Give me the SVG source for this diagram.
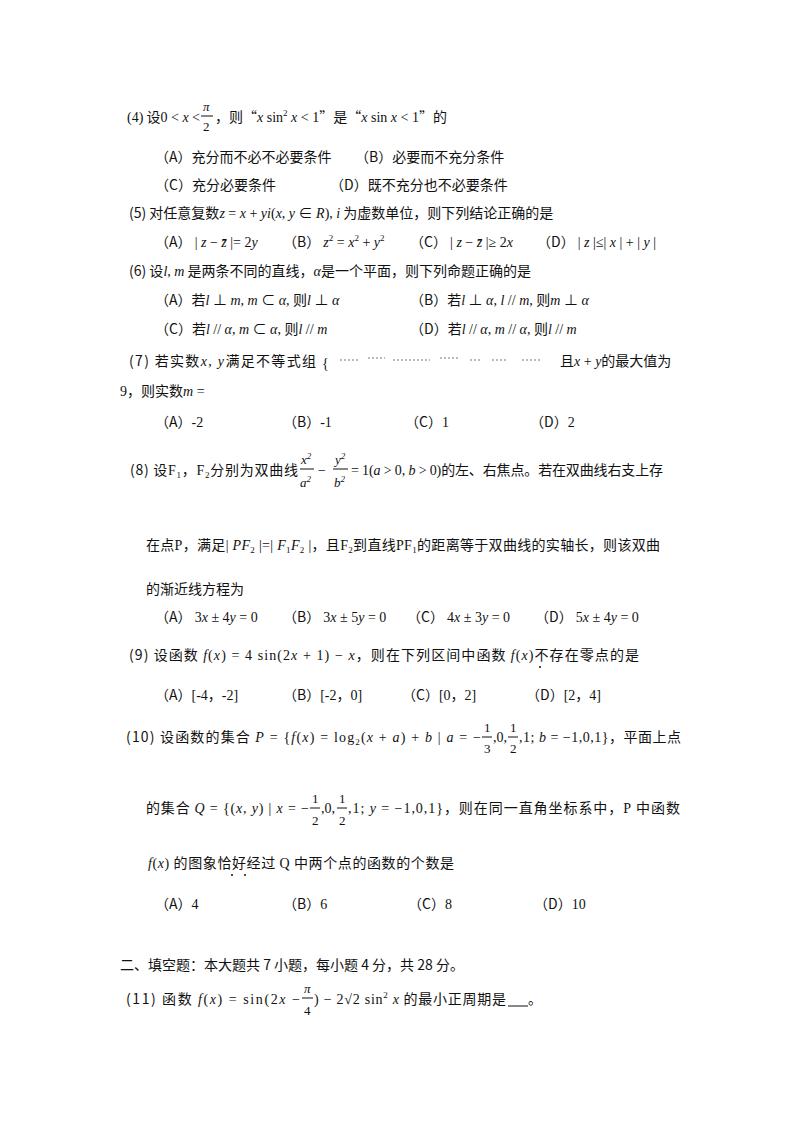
<svg xmlns="http://www.w3.org/2000/svg" width="800" height="1132" viewBox="0 0 800 1132">
<style>
text{font-family:"Noto Sans CJK SC","Liberation Serif",serif;font-size:14px;fill:#111}
.m{font-family:"Liberation Serif","Noto Sans CJK SC",serif;font-style:italic}
.r{font-family:"Liberation Serif","Noto Sans CJK SC",serif}
.s{font-size:9px}
.f{font-family:"Liberation Serif",serif;font-size:13px}
.e{text-anchor:end}
</style>
<rect width="800" height="1132" fill="#fff"/>
<g id="q4">
<text class="e" x="200" y="122"><tspan class="r">(4)</tspan> 设<tspan class="r">0 &lt; </tspan><tspan class="m">x</tspan><tspan class="r"> &lt; </tspan></text>
<text class="m f" x="203" y="111">π</text><line x1="201" y1="116" x2="213" y2="116" stroke="#111"/><text class="f" x="203" y="131">2</text>
<text x="215" y="122" textLength="232" lengthAdjust="spacing">，则“<tspan class="m">x</tspan><tspan class="r"> sin</tspan><tspan class="r s" dy="-6">2</tspan><tspan class="m" dy="6"> x</tspan><tspan class="r"> &lt; 1</tspan>”是“<tspan class="m">x</tspan><tspan class="r"> sin </tspan><tspan class="m">x</tspan><tspan class="r"> &lt; 1</tspan>”的</text>
<text x="155" y="162">（A）充分而不必不必要条件</text>
<text x="355" y="162">（B）必要而不充分条件</text>
<text x="155" y="190">（C）充分必要条件</text>
<text x="330" y="190">（D）既不充分也不必要条件</text>
</g>
<g id="q5">
<text x="129" y="218">(5) 对任意复数<tspan class="m">z</tspan><tspan class="r"> = </tspan><tspan class="m">x</tspan><tspan class="r"> + </tspan><tspan class="m">yi</tspan><tspan class="r">(</tspan><tspan class="m">x</tspan><tspan class="r">, </tspan><tspan class="m">y</tspan><tspan class="r"> ∈ </tspan><tspan class="m">R</tspan><tspan class="r">), </tspan><tspan class="m">i</tspan> 为虚数单位，则下列结论正确的是</text>
<text x="155" y="247">（A） <tspan class="r">| </tspan><tspan class="m">z</tspan><tspan class="r"> − </tspan><tspan class="m">z̄</tspan><tspan class="r"> |= 2</tspan><tspan class="m">y</tspan></text>
<text x="283" y="247">（B） <tspan class="m">z</tspan><tspan class="r s" dy="-6">2</tspan><tspan class="r" dy="6"> = </tspan><tspan class="m">x</tspan><tspan class="r s" dy="-6">2</tspan><tspan class="r" dy="6"> + </tspan><tspan class="m">y</tspan><tspan class="r s" dy="-6">2</tspan></text>
<text x="410" y="247">（C） <tspan class="r">| </tspan><tspan class="m">z</tspan><tspan class="r"> − </tspan><tspan class="m">z̄</tspan><tspan class="r"> |≥ 2</tspan><tspan class="m">x</tspan></text>
<text x="537" y="247">（D） <tspan class="r">| </tspan><tspan class="m">z</tspan><tspan class="r"> |≤| </tspan><tspan class="m">x</tspan><tspan class="r"> | + | </tspan><tspan class="m">y</tspan><tspan class="r"> |</tspan></text>
</g>
<g id="q6">
<text x="129" y="276">(6) 设<tspan class="m">l</tspan><tspan class="r">, </tspan><tspan class="m">m</tspan> 是两条不同的直线，<tspan class="m">α</tspan>是一个平面，则下列命题正确的是</text>
<text x="155" y="305">（A）若<tspan class="m">l</tspan><tspan class="r"> ⊥ </tspan><tspan class="m">m</tspan><tspan class="r">, </tspan><tspan class="m">m</tspan><tspan class="r"> ⊂ </tspan><tspan class="m">α</tspan><tspan class="r">, </tspan>则<tspan class="m">l</tspan><tspan class="r"> ⊥ </tspan><tspan class="m">α</tspan></text>
<text x="410" y="305">（B）若<tspan class="m">l</tspan><tspan class="r"> ⊥ </tspan><tspan class="m">α</tspan><tspan class="r">, </tspan><tspan class="m">l</tspan><tspan class="r"> // </tspan><tspan class="m">m</tspan><tspan class="r">, </tspan>则<tspan class="m">m</tspan><tspan class="r"> ⊥ </tspan><tspan class="m">α</tspan></text>
<text x="155" y="334">（C）若<tspan class="m">l</tspan><tspan class="r"> // </tspan><tspan class="m">α</tspan><tspan class="r">, </tspan><tspan class="m">m</tspan><tspan class="r"> ⊂ </tspan><tspan class="m">α</tspan><tspan class="r">, </tspan>则<tspan class="m">l</tspan><tspan class="r"> // </tspan><tspan class="m">m</tspan></text>
<text x="410" y="334">（D）若<tspan class="m">l</tspan><tspan class="r"> // </tspan><tspan class="m">α</tspan><tspan class="r">, </tspan><tspan class="m">m</tspan><tspan class="r"> // </tspan><tspan class="m">α</tspan><tspan class="r">, </tspan>则<tspan class="m">l</tspan><tspan class="r"> // </tspan><tspan class="m">m</tspan></text>
</g>
<g id="q7">
<text x="129" y="366" textLength="187" lengthAdjust="spacing">(7) 若实数<tspan class="m">x</tspan><tspan class="r">, </tspan><tspan class="m">y</tspan>满足不等式组</text>
<text class="r" x="322" y="368" font-size="20">{</text>
<g stroke="#bbb" stroke-width="2" stroke-dasharray="2 2">
<line x1="340" y1="360" x2="360" y2="360"/><line x1="368" y1="358" x2="385" y2="358"/><line x1="393" y1="360" x2="430" y2="360"/><line x1="440" y1="358" x2="460" y2="358"/><line x1="470" y1="360" x2="480" y2="360"/><line x1="492" y1="360" x2="508" y2="360"/><line x1="522" y1="360" x2="540" y2="360"/>
</g>
<text x="560" y="366">且<tspan class="m">x</tspan><tspan class="r"> + </tspan><tspan class="m">y</tspan>的最大值为</text>
<text x="120" y="396"><tspan class="r">9</tspan>，则实数<tspan class="m">m</tspan><tspan class="r"> =</tspan></text>
<text x="155" y="427">（A）<tspan class="r">-2</tspan></text>
<text x="283" y="427">（B）<tspan class="r">-1</tspan></text>
<text x="405" y="427">（C）<tspan class="r">1</tspan></text>
<text x="530" y="427">（D）<tspan class="r">2</tspan></text>
</g>
<g id="q8">
<text class="e" x="298" y="475" textLength="168" lengthAdjust="spacing">(8) 设<tspan class="r">F</tspan><tspan class="r s" dy="3">1</tspan><tspan dy="-3">，</tspan><tspan class="r">F</tspan><tspan class="r s" dy="3">2</tspan><tspan dy="-3">分别为双曲线</tspan></text>
<text class="m f" x="301" y="464">x<tspan class="s" dy="-5">2</tspan></text><line x1="300" y1="469" x2="314" y2="469" stroke="#111"/><text class="m f" x="300" y="487">a<tspan class="s" dy="-5">2</tspan></text>
<text class="r" x="318" y="475">−</text>
<text class="m f" x="335" y="464">y<tspan class="s" dy="-5">2</tspan></text><line x1="333" y1="469" x2="348" y2="469" stroke="#111"/><text class="m f" x="334" y="487">b<tspan class="s" dy="-5">2</tspan></text>
<text x="351" y="475" textLength="312" lengthAdjust="spacing"><tspan class="r">= 1(</tspan><tspan class="m">a</tspan><tspan class="r"> &gt; 0, </tspan><tspan class="m">b</tspan><tspan class="r"> &gt; 0)</tspan>的左、右焦点。若在双曲线右支上存</text>
<text x="146" y="550" textLength="514" lengthAdjust="spacing">在点<tspan class="r">P</tspan>，满足<tspan class="r">| </tspan><tspan class="m">PF</tspan><tspan class="r s" dy="3">2</tspan><tspan class="r" dy="-3"> |=| </tspan><tspan class="m">F</tspan><tspan class="r s" dy="3">1</tspan><tspan class="m" dy="-3">F</tspan><tspan class="r s" dy="3">2</tspan><tspan class="r" dy="-3"> |</tspan>，且<tspan class="r">F</tspan><tspan class="r s" dy="3">2</tspan><tspan dy="-3">到直线</tspan><tspan class="r">PF</tspan><tspan class="r s" dy="3">1</tspan><tspan dy="-3">的距离等于双曲线的实轴长，则该双曲</tspan></text>
<text x="146" y="594">的渐近线方程为</text>
<text x="155" y="622">（A） <tspan class="r">3</tspan><tspan class="m">x</tspan><tspan class="r"> ± 4</tspan><tspan class="m">y</tspan><tspan class="r"> = 0</tspan></text>
<text x="283" y="622">（B） <tspan class="r">3</tspan><tspan class="m">x</tspan><tspan class="r"> ± 5</tspan><tspan class="m">y</tspan><tspan class="r"> = 0</tspan></text>
<text x="407" y="622">（C） <tspan class="r">4</tspan><tspan class="m">x</tspan><tspan class="r"> ± 3</tspan><tspan class="m">y</tspan><tspan class="r"> = 0</tspan></text>
<text x="535" y="622">（D） <tspan class="r">5</tspan><tspan class="m">x</tspan><tspan class="r"> ± 4</tspan><tspan class="m">y</tspan><tspan class="r"> = 0</tspan></text>
</g>
<g id="q9">
<text x="129" y="660" textLength="510" lengthAdjust="spacing">(9) 设函数 <tspan class="m">f</tspan><tspan class="r">(</tspan><tspan class="m">x</tspan><tspan class="r">) = 4 sin(2</tspan><tspan class="m">x</tspan><tspan class="r"> + 1) − </tspan><tspan class="m">x</tspan>，则在下列区间中函数 <tspan class="m">f</tspan><tspan class="r">(</tspan><tspan class="m">x</tspan><tspan class="r">)</tspan>不存在零点的是</text>
<circle cx="540" cy="667" r="1" fill="#111"/>
<text x="155" y="700">（A）<tspan class="r">[-4，-2]</tspan></text>
<text x="283" y="700">（B）<tspan class="r">[-2，0]</tspan></text>
<text x="402" y="700">（C）<tspan class="r">[0，2]</tspan></text>
<text x="526" y="700">（D）<tspan class="r">[2，4]</tspan></text>
</g>
<g id="q10">
<text class="e" x="481" y="742" textLength="355" lengthAdjust="spacing">(10) 设函数的集合 <tspan class="m">P</tspan><tspan class="r"> = {</tspan><tspan class="m">f</tspan><tspan class="r">(</tspan><tspan class="m">x</tspan><tspan class="r">) = log</tspan><tspan class="r s" dy="3">2</tspan><tspan class="r" dy="-3">(</tspan><tspan class="m">x</tspan><tspan class="r"> + </tspan><tspan class="m">a</tspan><tspan class="r">) + </tspan><tspan class="m">b</tspan><tspan class="r"> | </tspan><tspan class="m">a</tspan><tspan class="r"> = −</tspan></text>
<text class="f" x="484" y="732">1</text><line x1="482" y1="737" x2="492" y2="737" stroke="#111"/><text class="f" x="484" y="753">3</text>
<text class="r" x="493" y="742">,0,</text>
<text class="f" x="510" y="732">1</text><line x1="508" y1="737" x2="518" y2="737" stroke="#111"/><text class="f" x="510" y="753">2</text>
<text x="519" y="742" textLength="162" lengthAdjust="spacing"><tspan class="r">,1; </tspan><tspan class="m">b</tspan><tspan class="r"> = −1,0,1}</tspan>，平面上点</text>
<text class="e" x="309" y="813" textLength="163" lengthAdjust="spacing">的集合 <tspan class="m">Q</tspan><tspan class="r"> = {(</tspan><tspan class="m">x</tspan><tspan class="r">, </tspan><tspan class="m">y</tspan><tspan class="r">) | </tspan><tspan class="m">x</tspan><tspan class="r"> = −</tspan></text>
<text class="f" x="312" y="803">1</text><line x1="310" y1="808" x2="320" y2="808" stroke="#111"/><text class="f" x="312" y="825">2</text>
<text class="r" x="321" y="813">,0,</text>
<text class="f" x="339" y="803">1</text><line x1="337" y1="808" x2="347" y2="808" stroke="#111"/><text class="f" x="339" y="825">2</text>
<text x="348" y="813" textLength="332" lengthAdjust="spacing"><tspan class="r">,1; </tspan><tspan class="m">y</tspan><tspan class="r"> = −1,0,1}</tspan>，则在同一直角坐标系中，<tspan class="r">P</tspan> 中函数</text>
<text x="148" y="868" textLength="306" lengthAdjust="spacing"><tspan class="m">f</tspan><tspan class="r">(</tspan><tspan class="m">x</tspan><tspan class="r">)</tspan> 的图象恰好经过 <tspan class="r">Q</tspan> 中两个点的函数的个数是</text>
<circle cx="232" cy="875" r="1" fill="#111"/><circle cx="245" cy="875" r="1" fill="#111"/>
<text x="155" y="909">（A）<tspan class="r">4</tspan></text>
<text x="283" y="909">（B）<tspan class="r">6</tspan></text>
<text x="408" y="909">（C）<tspan class="r">8</tspan></text>
<text x="534" y="909">（D）<tspan class="r">10</tspan></text>
</g>
<g id="sec2">
<text x="120" y="970">二、填空题：本大题共 7 小题，每小题 4 分，共 28 分。</text>
<text class="e" x="300" y="1004" textLength="174" lengthAdjust="spacing">(11) 函数 <tspan class="m">f</tspan><tspan class="r">(</tspan><tspan class="m">x</tspan><tspan class="r">) = sin(2</tspan><tspan class="m">x</tspan><tspan class="r"> − </tspan></text>
<text class="m f" x="304" y="993">π</text><line x1="302" y1="998" x2="313" y2="998" stroke="#111"/><text class="f" x="304" y="1015">4</text>
<text x="314" y="1004" textLength="192" lengthAdjust="spacing"><tspan class="r">) − 2√2 sin</tspan><tspan class="r s" dy="-6">2</tspan><tspan class="m" dy="6"> x</tspan> 的最小正周期是</text>
<line x1="508" y1="1006" x2="528" y2="1006" stroke="#111"/>
<text x="528" y="1004">。</text>
</g>
</svg>
